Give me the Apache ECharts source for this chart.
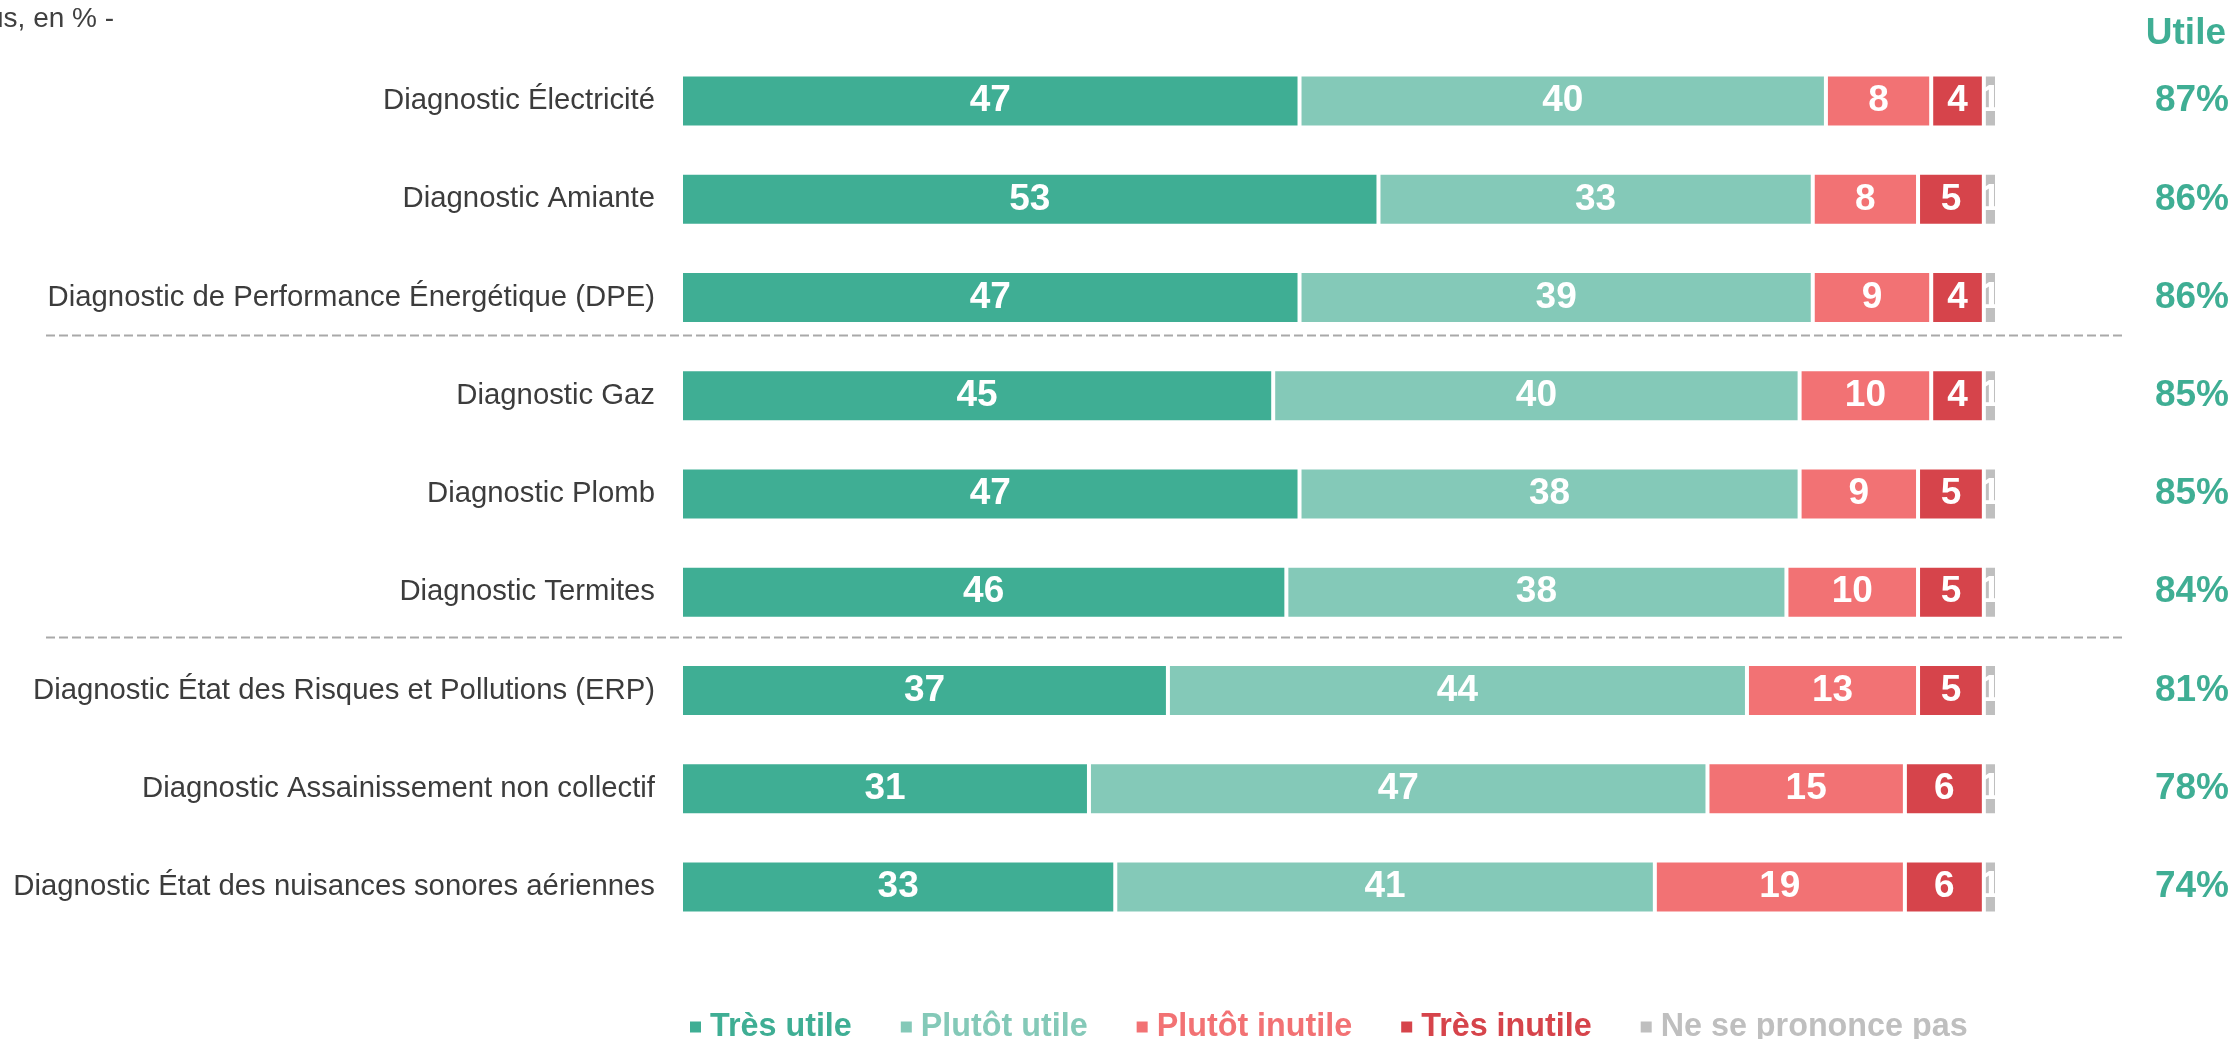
<!DOCTYPE html>
<html>
<head>
<meta charset="utf-8">
<title>Utilité des diagnostics</title>
<script src="https://cdn.jsdelivr.net/npm/echarts@6/dist/echarts.min.js"></script>
<style>
  html, body { margin: 0; padding: 0; background: #fff; }
  #chart { width: 2236px; height: 1039px; }
</style>
</head>
<body>
<div id="chart"></div>
<script>
var categories = [
  'Diagnostic Électricité',
  'Diagnostic Amiante',
  'Diagnostic de Performance Énergétique (DPE)',
  'Diagnostic Gaz',
  'Diagnostic Plomb',
  'Diagnostic Termites',
  'Diagnostic État des Risques et Pollutions (ERP)',
  'Diagnostic Assainissement non collectif',
  'Diagnostic État des nuisances sonores aériennes'
]
var tresUtile = [47, 53, 47, 45, 47, 46, 37, 31, 33]
var plutotUtile = [40, 33, 39, 40, 38, 38, 44, 47, 41]
var plutotInutile = [8, 8, 9, 10, 9, 10, 13, 15, 19]
var tresInutile = [4, 5, 4, 4, 5, 5, 5, 6, 6]
var nsp = [1, 1, 1, 1, 1, 1, 1, 1, 1]
var utile = [87, 86, 86, 85, 85, 84, 81, 78, 74]
// rows after which a dashed separator is drawn
var separators = [2, 5]

var FONT = '"Liberation Sans", Arial, sans-serif'
var colors = ['#3fae94', '#84c9b8', '#f27274', '#d6444b', '#bfbfbf']
var names = ['Très utile', 'Plutôt utile', 'Plutôt inutile', 'Très inutile', 'Ne se prononce pas']
var values = [tresUtile, plutotUtile, plutotInutile, tresInutile, nsp]
var sepShift = [-12, -4] // separators sit a bit above the gap

var chart = echarts.init(document.getElementById('chart'))

function makeSeries(i) {
  return {
    name: names[i],
    type: 'bar',
    stack: 'total',
    barWidth: 53,
    data: values[i],
    itemStyle: {
      color: colors[i],
      borderColor: '#ffffff',
      borderWidth: 2
    },
    label: {
      show: true,
      position: 'inside',
      color: '#ffffff',
      fontFamily: FONT,
      fontSize: 37,
      fontWeight: 'bold'
    },
    emphasis: { disabled: true }
  }
}

chart.setOption({
  animation: false,
  textStyle: { fontFamily: FONT },
  title: [
    {
      text: 'us, en % -',
      left: -17,
      top: 0,
      textStyle: { fontFamily: FONT, fontSize: 28, fontWeight: 'normal', color: '#404040' }
    },
    {
      text: 'Utile',
      right: 5,
      top: 10,
      textStyle: { fontFamily: FONT, fontSize: 37, fontWeight: 'bold', color: colors[0] }
    }
  ],
  legend: {
    left: 683,
    top: 1006,
    icon: 'rect',
    itemWidth: 13,
    itemHeight: 13,
    itemGap: 47,
    selectedMode: false,
    data: names.map(function (n, i) {
      return { name: n, textStyle: { color: colors[i] } }
    }),
    textStyle: { fontFamily: FONT, fontSize: 32.3, fontWeight: 'bold', padding: [0, 0, 0, 3] }
  },
  grid: {
    left: 681,
    right: 239,
    top: 52,
    height: 884,
    containLabel: false
  },
  xAxis: {
    type: 'value',
    min: 0,
    max: 100,
    show: false
  },
  yAxis: [
    {
      type: 'category',
      data: categories,
      inverse: true,
      axisLine: { show: false },
      axisTick: { show: false },
      axisLabel: {
        margin: 26,
        color: '#3c3c3c',
        fontFamily: FONT,
        fontSize: 29.3
      }
    },
    {
      type: 'category',
      data: categories,
      inverse: true,
      position: 'right',
      axisLine: { show: false },
      axisTick: { show: false },
      axisLabel: {
        margin: 232,
        align: 'right',
        color: colors[0],
        fontFamily: FONT,
        fontSize: 37,
        fontWeight: 'bold',
        formatter: function (v, idx) { return utile[idx] + '%' }
      }
    }
  ],
  series: [0, 1, 2, 3, 4].map(makeSeries)
})

// dashed separators between groups of rows
var lines = separators.map(function (i, k) {
  var y1 = chart.convertToPixel({ yAxisIndex: 0 }, categories[i])
  var y2 = chart.convertToPixel({ yAxisIndex: 0 }, categories[i + 1])
  var y = Math.round((y1 + y2) / 2 + sepShift[k]) + 0.5
  return {
    type: 'line',
    shape: { x1: 46, y1: y, x2: 2122, y2: y },
    style: { stroke: '#a9a9a9', lineWidth: 2, lineDash: [9, 4] },
    silent: true
  }
})
chart.setOption({ graphic: lines })
</script>
</body>
</html>
